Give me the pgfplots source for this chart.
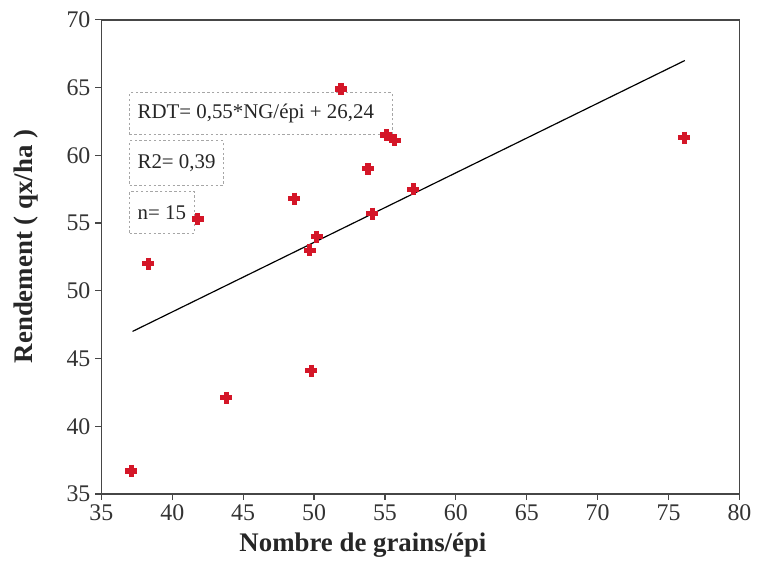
\documentclass[border=0pt]{standalone}
\usepackage{fontspec}
\setmainfont{Liberation Serif}
\usepackage{pgfplots}
\pgfplotsset{compat=1.18}
\definecolor{ptred}{RGB}{212,22,40}
\definecolor{axgray}{RGB}{70,70,70}

\begin{document}
\begin{tikzpicture}
\begin{axis}[
  scale only axis,
  width=321pt, height=238.5pt,
  xmin=35, xmax=80, ymin=35, ymax=70,
  xtick={35,40,...,80}, ytick={35,40,...,70},
  xtick pos=bottom, ytick pos=left,
  tick align=outside, major tick length=3pt,
  axis line style={axgray, line width=0.7pt},
  tick style={axgray, line width=0.6pt},
  /pgf/number format/assume math mode=true,
  ticklabel style={font=\fontsize{12}{13}\selectfont, text=black!80},
  xticklabel style={yshift=1pt},
  yticklabel style={xshift=1pt},
  xlabel={Nombre de grains/épi},
  ylabel={Rendement ( qx/ha )},
  label style={font=\fontsize{13.5}{15}\selectfont\bfseries, text=black!85},
  xlabel style={at={(axis description cs:0.41,0)}, anchor=north, yshift=-16pt},
  ylabel style={at={(axis description cs:0,0.522)}, anchor=south, yshift=28pt},
  clip=false,
]
\addplot[black, line width=0.6pt] coordinates {(37.2,47.0) (76.15,67.0)};
\addplot[only marks, mark=+, mark size=3pt, ptred, line width=2.6pt] table {
x y
37.1 36.7
38.3 52.0
41.8 55.3
43.8 42.1
48.6 56.8
49.7 53.0
49.8 44.1
50.2 54.0
51.9 64.9
53.8 59.0
54.1 55.7
55.1 61.5
55.7 61.1
57.0 57.5
76.1 61.3
};
\tikzset{statbox/.style={draw=gray!70, dash pattern=on 1.2pt off 1.2pt, line width=0.5pt,
  anchor=north west, inner xsep=4pt, inner ysep=0pt,
  font=\fontsize{10.5}{12}\selectfont, text=black!85}}
\node[statbox, minimum height=21pt] at (axis description cs:0.0436,0.847) {\makebox[124pt][l]{RDT= 0,55*NG/épi + 26,24}};
\node[statbox, minimum height=22.5pt] at (axis description cs:0.0436,0.746) {\makebox[39pt][l]{R2= 0,39}};
\node[statbox, minimum height=21pt] at (axis description cs:0.0436,0.639) {\makebox[24.5pt][l]{n= 15}};
\end{axis}
\path (current axis.south west) ++(-51pt,-33pt) rectangle ([xshift=7pt,yshift=10pt]current axis.north east);
\end{tikzpicture}
\end{document}
